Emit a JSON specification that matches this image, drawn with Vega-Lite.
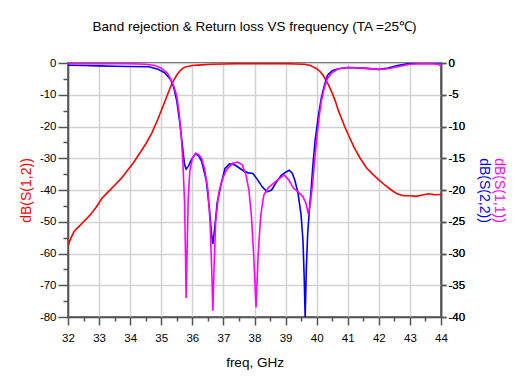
{
  "$schema": "https://vega.github.io/schema/vega-lite/v6.json",
  "width": 373,
  "height": 254,
  "autosize": {"type": "none"},
  "padding": {"left": 68, "top": 63, "right": 74, "bottom": 65},
  "background": "white",
  "config": {
    "view": {"stroke": "#222", "strokeWidth": 1.5},
    "font": "Liberation Sans",
    "axis": {
      "labelFont": "Liberation Sans",
      "titleFont": "Liberation Sans",
      "labelFontSize": 11.5,
      "labelColor": "#000",
      "domainColor": "#555",
      "domainWidth": 1.5,
      "tickColor": "#555",
      "tickWidth": 1.5,
      "gridColor": "#d2d2d2",
      "gridWidth": 1.5,
      "titleFontWeight": "normal",
      "labelOverlap": false,
      "labelFlush": false,
      "labelBound": false
    }
  },
  "title": {
    "text": "Band rejection & Return loss VS frequency (TA =25℃)",
    "font": "Liberation Sans",
    "fontSize": 13.5,
    "fontWeight": "normal",
    "color": "#000",
    "anchor": "middle",
    "baseline": "alphabetic",
    "offset": 13
  },
  "datasets": {
    "s12": [
      {"f": 32.0, "db": -57.5}, {"f": 32.1, "db": -55}, {"f": 32.2, "db": -53}, {"f": 32.3, "db": -52},
      {"f": 32.5, "db": -50}, {"f": 32.7, "db": -48}, {"f": 32.9, "db": -45.5}, {"f": 33.1, "db": -42.5},
      {"f": 33.3, "db": -40.5}, {"f": 33.5, "db": -38.5}, {"f": 33.7, "db": -36.5}, {"f": 33.9, "db": -34},
      {"f": 34.1, "db": -31.5}, {"f": 34.3, "db": -28.5}, {"f": 34.5, "db": -25.5}, {"f": 34.7, "db": -22},
      {"f": 34.9, "db": -17.5}, {"f": 35.1, "db": -12.5}, {"f": 35.2, "db": -10}, {"f": 35.3, "db": -7.5},
      {"f": 35.4, "db": -5.5}, {"f": 35.5, "db": -3.8}, {"f": 35.6, "db": -2.5}, {"f": 35.7, "db": -1.6},
      {"f": 35.8, "db": -1.2}, {"f": 36.0, "db": -0.8}, {"f": 36.3, "db": -0.6}, {"f": 36.6, "db": -0.4},
      {"f": 37.0, "db": -0.3}, {"f": 37.5, "db": -0.2}, {"f": 38.0, "db": -0.2}, {"f": 38.5, "db": -0.2},
      {"f": 39.0, "db": -0.2}, {"f": 39.3, "db": -0.3}, {"f": 39.6, "db": -0.4}, {"f": 39.8, "db": -0.8},
      {"f": 39.9, "db": -1.3}, {"f": 40.0, "db": -1.8}, {"f": 40.1, "db": -2.6}, {"f": 40.2, "db": -3.8},
      {"f": 40.3, "db": -5.5}, {"f": 40.4, "db": -7.3}, {"f": 40.5, "db": -9.5}, {"f": 40.6, "db": -12},
      {"f": 40.7, "db": -15}, {"f": 40.8, "db": -17.5}, {"f": 40.9, "db": -20}, {"f": 41.0, "db": -22.2},
      {"f": 41.2, "db": -26.5}, {"f": 41.4, "db": -30}, {"f": 41.6, "db": -33}, {"f": 41.8, "db": -35},
      {"f": 42.0, "db": -36.8}, {"f": 42.2, "db": -38.5}, {"f": 42.4, "db": -40}, {"f": 42.6, "db": -41.3},
      {"f": 42.8, "db": -41.8}, {"f": 43.0, "db": -41.8}, {"f": 43.2, "db": -42}, {"f": 43.4, "db": -41.6},
      {"f": 43.6, "db": -41.2}, {"f": 43.8, "db": -41.5}, {"f": 44.0, "db": -41.4}
    ],
    "s11": [
      {"f": 32.0, "db": -0.1}, {"f": 33.0, "db": -0.1}, {"f": 34.0, "db": -0.1}, {"f": 34.5, "db": -0.2},
      {"f": 34.8, "db": -0.4}, {"f": 35.0, "db": -0.8}, {"f": 35.2, "db": -1.6}, {"f": 35.3, "db": -2.5},
      {"f": 35.4, "db": -3.6}, {"f": 35.5, "db": -5.2}, {"f": 35.58, "db": -8}, {"f": 35.65, "db": -12},
      {"f": 35.7, "db": -16}, {"f": 35.75, "db": -22}, {"f": 35.78, "db": -30}, {"f": 35.8, "db": -37},
      {"f": 35.83, "db": -30}, {"f": 35.87, "db": -21}, {"f": 35.92, "db": -17}, {"f": 36.0, "db": -15},
      {"f": 36.1, "db": -14.2}, {"f": 36.2, "db": -14.4}, {"f": 36.3, "db": -15}, {"f": 36.4, "db": -16.8},
      {"f": 36.5, "db": -20}, {"f": 36.57, "db": -25}, {"f": 36.62, "db": -32}, {"f": 36.66, "db": -39},
      {"f": 36.7, "db": -32}, {"f": 36.75, "db": -25}, {"f": 36.85, "db": -20.5}, {"f": 36.95, "db": -18.5},
      {"f": 37.1, "db": -16.8}, {"f": 37.3, "db": -15.8}, {"f": 37.45, "db": -15.6}, {"f": 37.6, "db": -16},
      {"f": 37.72, "db": -17.5}, {"f": 37.82, "db": -20}, {"f": 37.9, "db": -24}, {"f": 37.97, "db": -30},
      {"f": 38.05, "db": -38.5}, {"f": 38.12, "db": -30}, {"f": 38.2, "db": -24}, {"f": 38.3, "db": -20.8},
      {"f": 38.45, "db": -19.6}, {"f": 38.6, "db": -19}, {"f": 38.8, "db": -18.2}, {"f": 38.95, "db": -17.6},
      {"f": 39.1, "db": -18.4}, {"f": 39.25, "db": -19.7}, {"f": 39.4, "db": -20.3}, {"f": 39.55, "db": -21},
      {"f": 39.65, "db": -22}, {"f": 39.73, "db": -23.8}, {"f": 39.8, "db": -22}, {"f": 39.87, "db": -19},
      {"f": 39.93, "db": -15.5}, {"f": 40.0, "db": -12}, {"f": 40.08, "db": -8.5}, {"f": 40.15, "db": -6},
      {"f": 40.25, "db": -3.8}, {"f": 40.35, "db": -2.4}, {"f": 40.5, "db": -1.5}, {"f": 40.7, "db": -0.9},
      {"f": 41.0, "db": -0.7}, {"f": 41.5, "db": -0.8}, {"f": 42.0, "db": -1.0}, {"f": 42.3, "db": -0.9},
      {"f": 42.6, "db": -0.6}, {"f": 43.0, "db": -0.2}, {"f": 43.5, "db": -0.1}, {"f": 43.9, "db": -0.2},
      {"f": 44.0, "db": -0.5}
    ],
    "s22": [
      {"f": 32.0, "db": -0.35}, {"f": 32.5, "db": -0.4}, {"f": 33.0, "db": -0.45}, {"f": 33.5, "db": -0.5},
      {"f": 34.0, "db": -0.55}, {"f": 34.6, "db": -0.6}, {"f": 34.9, "db": -1.0}, {"f": 35.1, "db": -1.5},
      {"f": 35.3, "db": -2.6}, {"f": 35.4, "db": -3.8}, {"f": 35.5, "db": -6}, {"f": 35.6, "db": -9.5},
      {"f": 35.68, "db": -13}, {"f": 35.75, "db": -16}, {"f": 35.8, "db": -16.7}, {"f": 35.88, "db": -16.2},
      {"f": 35.96, "db": -15.3}, {"f": 36.1, "db": -14.3}, {"f": 36.2, "db": -14.6}, {"f": 36.3, "db": -15.5},
      {"f": 36.45, "db": -18.5}, {"f": 36.55, "db": -23}, {"f": 36.62, "db": -27}, {"f": 36.66, "db": -28.5},
      {"f": 36.72, "db": -26}, {"f": 36.8, "db": -22}, {"f": 36.93, "db": -19}, {"f": 37.05, "db": -16.6},
      {"f": 37.2, "db": -15.9}, {"f": 37.35, "db": -16}, {"f": 37.5, "db": -16.5}, {"f": 37.65, "db": -17},
      {"f": 37.8, "db": -17.3}, {"f": 37.95, "db": -17.4}, {"f": 38.1, "db": -18.4}, {"f": 38.25, "db": -19.5},
      {"f": 38.4, "db": -20.3}, {"f": 38.55, "db": -20}, {"f": 38.7, "db": -18.8}, {"f": 38.86, "db": -17.7},
      {"f": 39.0, "db": -17.2}, {"f": 39.12, "db": -16.9}, {"f": 39.22, "db": -17.4}, {"f": 39.3, "db": -18.5},
      {"f": 39.4, "db": -20.5}, {"f": 39.5, "db": -24}, {"f": 39.56, "db": -28}, {"f": 39.6, "db": -34},
      {"f": 39.63, "db": -40}, {"f": 39.67, "db": -32}, {"f": 39.71, "db": -27}, {"f": 39.76, "db": -23.5},
      {"f": 39.82, "db": -20}, {"f": 39.88, "db": -16}, {"f": 39.95, "db": -12.2}, {"f": 40.05, "db": -8.5},
      {"f": 40.15, "db": -5.5}, {"f": 40.25, "db": -3.5}, {"f": 40.35, "db": -1.9}, {"f": 40.5, "db": -1.2},
      {"f": 40.7, "db": -0.9}, {"f": 41.0, "db": -0.7}, {"f": 41.5, "db": -0.8}, {"f": 42.0, "db": -1.0},
      {"f": 42.3, "db": -0.8}, {"f": 42.6, "db": -0.4}, {"f": 43.0, "db": -0.05}, {"f": 43.5, "db": 0},
      {"f": 44.0, "db": 0}
    ]
  },
  "encoding": {
    "x": {
      "field": "f",
      "type": "quantitative",
      "scale": {"domain": [32, 44], "nice": false, "zero": false},
      "axis": {
        "title": "freq, GHz",
        "titleFontSize": 13.5,
        "titleColor": "#000",
        "titlePadding": 12,
        "values": [32, 32.5, 33, 33.5, 34, 34.5, 35, 35.5, 36, 36.5, 37, 37.5, 38, 38.5, 39, 39.5, 40, 40.5, 41, 41.5, 42, 42.5, 43, 43.5, 44],
        "labelExpr": "datum.value % 1 === 0 ? '' + datum.value : ''",
        "tickSize": {"condition": {"test": "datum.value % 1 === 0", "value": 8}, "value": 4},
        "gridOpacity": {"condition": {"test": "datum.value % 1 === 0", "value": 1}, "value": 0},
        "labelPadding": 7,
        "grid": true
      }
    }
  },
  "layer": [
    {
      "data": {"name": "s12"},
      "mark": {"type": "line", "color": "#ff0000", "strokeWidth": 1.6, "clip": true},
      "encoding": {
        "y": {
          "field": "db",
          "type": "quantitative",
          "scale": {"domain": [-80, 0], "nice": false},
          "axis": {
            "orient": "left",
            "title": "dB(S(1,2))",
            "titleColor": "#ff0000",
            "titleFontSize": 14,
            "titlePadding": 6,
            "values": [-80, -75, -70, -65, -60, -55, -50, -45, -40, -35, -30, -25, -20, -15, -10, -5, 0],
            "labelExpr": "datum.value % 10 === 0 ? '' + datum.value : ''",
            "tickSize": {"condition": {"test": "datum.value % 10 === 0", "value": 10}, "value": 5},
            "gridOpacity": {"condition": {"test": "datum.value % 10 === 0", "value": 1}, "value": 0},
            "labelPadding": 2,
            "grid": true
          }
        }
      }
    },
    {
      "data": {"name": "s22"},
      "mark": {"type": "line", "color": "#0000ff", "strokeWidth": 1.6, "clip": true},
      "encoding": {
        "y": {
          "field": "db",
          "type": "quantitative",
          "scale": {"domain": [-40, 0], "nice": false},
          "axis": {
            "orient": "right",
            "title": "dB(S(2,2))",
            "titleColor": "#0000ff",
            "titleFontSize": 14,
            "titlePadding": 12,
            "values": [-40, -35, -30, -25, -20, -15, -10, -5, 0],
            "labelExpr": "'' + datum.value",
            "tickSize": 5,
            "labelPadding": 2,
            "grid": false
          }
        }
      }
    },
    {
      "data": {"name": "s11"},
      "mark": {"type": "line", "color": "#ff00ff", "strokeWidth": 1.6, "clip": true},
      "encoding": {
        "y": {
          "field": "db",
          "type": "quantitative",
          "scale": {"domain": [-40, 0], "nice": false},
          "axis": {
            "orient": "right",
            "title": "dB(S(1,1))",
            "titleColor": "#ff00ff",
            "titleFontSize": 14,
            "titlePadding": 27,
            "values": [-40, -35, -30, -25, -20, -15, -10, -5, 0],
            "labelExpr": "'' + datum.value",
            "tickSize": 5,
            "labelPadding": 2,
            "grid": false
          }
        }
      }
    }
  ],
  "resolve": {"scale": {"y": "independent"}, "axis": {"y": "independent"}}
}
